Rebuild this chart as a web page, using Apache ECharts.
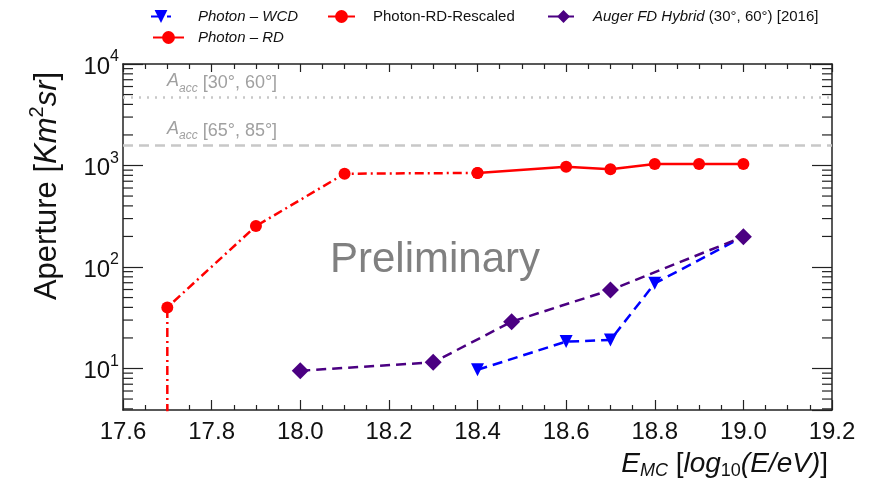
<!DOCTYPE html>
<html>
<head>
<meta charset="utf-8">
<script src="https://cdn.jsdelivr.net/npm/echarts@6/dist/echarts.min.js"></script>
<style>html,body{margin:0;padding:0;background:#fff;}#c{width:871px;height:491px;}</style>
</head>
<body>
<div id="c"></div>
<script>
// ---- data ----
const wcdX = [18.4, 18.6, 18.7, 18.8, 19.0];
const wcdY = [9.7, 18.4, 19.1, 69, 199];

const rescaledX = [17.7, 17.7, 17.9, 18.1, 18.4];
const rescaledY = [1, 40, 253, 830, 845];

const rdX = [18.4, 18.6, 18.7, 18.8, 18.9, 19.0];
const rdY = [845, 973, 918, 1035, 1035, 1035];

const augerX = [18.0, 18.3, 18.477, 18.7, 19.0];
const augerY = [9.5, 11.5, 28.9, 59.3, 199];

const accRef = [4700, 1600];
const accLabels = ['{i|A}{s|acc} [30°, 60°]', '{i|A}{s|acc} [65°, 85°]'];

const xTicks = [17.6, 17.8, 18.0, 18.2, 18.4, 18.6, 18.8, 19.0, 19.2];
const yMinorTicks = [4,5,6,7,8,9,20,30,40,50,60,70,80,90,200,300,400,500,600,700,800,900,2000,3000,4000,5000,6000,7000,8000,9000];

const zip = (xs, ys) => xs.map((x, i) => [x, ys[i]]);

const FONT = 'Liberation Sans';
const chart = echarts.init(document.getElementById('c'), null, {renderer: 'canvas'});

const axisLineStyle = {color: '#222', width: 1.5};
const xAxisCommon = {
  type: 'value', min: 17.6, max: 19.2, interval: 0.2,
  axisLine: {show: true, onZero: false, lineStyle: axisLineStyle},
  axisTick: {show: true, inside: true, length: 10, lineStyle: {color: '#222', width: 1.2}},
  minorTick: {show: true, splitNumber: 4, length: 5, lineStyle: {color: '#222', width: 1.2}},
  splitLine: {show: false}
};
const yAxisCommon = {
  type: 'log', logBase: 10, min: 3.9, max: 10000,
  axisLine: {show: true, onZero: false, lineStyle: axisLineStyle},
  axisTick: {show: true, inside: true, length: 20, lineStyle: {color: '#222', width: 1.2}},
  splitLine: {show: false}
};

function legendCfg(name, left, top, w, pad, italic, rich) {
  return {
    data: [name], left: left, top: top, itemWidth: w, itemHeight: 16, orient: 'horizontal',
    selectedMode: false,
    textStyle: Object.assign({fontFamily: FONT, fontSize: 15, color: '#111', padding: [0, 0, 0, pad],
      fontStyle: italic ? 'italic' : 'normal'}, rich ? {rich: rich} : {}),
    formatter: rich ? () => '{i|Auger FD Hybrid}{n| (30°, 60°) [2016]}' : undefined
  };
}

const option = {
  animation: false,
  backgroundColor: '#fff',
  grid: {left: 123, right: 39, top: 64, bottom: 81},
  legend: [
    legendCfg('Photon – WCD', 145, 4, 20, 22, true),
    legendCfg('Photon-RD-Rescaled', 322, 4, 27, 13, false),
    legendCfg('Auger FD Hybrid', 542, 4, 31, 9, false, {
      i: {fontStyle: 'italic', fontFamily: FONT, fontSize: 15, color: '#111'},
      n: {fontFamily: FONT, fontSize: 15, color: '#111'}
    }),
    legendCfg('Photon – RD', 147, 25, 31, 9, true)
  ],
  xAxis: [
    Object.assign({}, xAxisCommon, {
      position: 'bottom',
      axisLabel: {show: true, margin: 10, fontFamily: FONT, fontSize: 24, color: '#111',
        formatter: v => xTicks.some(t => Math.abs(t - v) < 1e-6) ? v.toFixed(1) : ''}
    }),
    Object.assign({}, xAxisCommon, {position: 'top', axisLabel: {show: false},
      axisTick: {show: true, inside: true, length: 8, lineStyle: {color: '#222', width: 1.2}}})
  ],
  yAxis: [
    Object.assign({}, yAxisCommon, {
      position: 'left',
      axisLabel: {show: true, margin: 4, showMinLabel: false,
        formatter: v => {
          const l = Math.log10(v), e = Math.round(l);
          if (Math.abs(l - e) > 1e-6) return '';
          return '{b|10}{s|' + e + '}';
        },
        rich: {
          b: {fontFamily: FONT, fontSize: 24, color: '#111', lineHeight: 30, verticalAlign: 'bottom'},
          s: {fontFamily: FONT, fontSize: 16, color: '#111', lineHeight: 16, verticalAlign: 'top'}
        }
      }
    }),
    Object.assign({}, yAxisCommon, {position: 'right', axisLabel: {show: false}})
  ],
  series: [
    {
      name: 'acc-ref', type: 'line', data: [], silent: true,
      markLine: {
        silent: true, symbol: ['none', 'none'],
        data: [
          {yAxis: accRef[0], lineStyle: {type: [2, 6], color: '#c8c8c8', width: 2.5},
            label: {formatter: accLabels[0]}},
          {yAxis: accRef[1], lineStyle: {type: [10, 6], color: '#c8c8c8', width: 2.5},
            label: {formatter: accLabels[1]}}
        ],
        label: {
          show: true, position: 'insideStartTop', distance: [44, 3],
          color: '#a0a0a0', fontFamily: FONT, fontSize: 18,
          rich: {
            i: {fontStyle: 'italic', fontFamily: FONT, fontSize: 18, color: '#a0a0a0', lineHeight: 22, verticalAlign: 'top'},
            s: {fontStyle: 'italic', fontFamily: FONT, fontSize: 12, color: '#a0a0a0', lineHeight: 12, verticalAlign: 'bottom'}
          }
        }
      }
    },
    {
      name: 'Photon-RD-Rescaled', type: 'line', color: '#ff0000', z: 2,
      data: zip(rescaledX, rescaledY).map((p, i) => i === 0 ? {value: p, symbol: 'none'} : p),
      symbol: 'circle', symbolSize: 12, showAllSymbol: true, clip: true,
      lineStyle: {width: 2.5, type: [9, 4, 2, 4], color: '#ff0000'},
      itemStyle: {color: '#ff0000'}
    },
    {
      name: 'Photon – RD', type: 'line', color: '#ff0000', z: 3,
      data: zip(rdX, rdY), symbol: 'circle', symbolSize: 12, showAllSymbol: true,
      lineStyle: {width: 2.5, type: 'solid', color: '#ff0000'},
      itemStyle: {color: '#ff0000'}
    },
    {
      name: 'Photon – WCD', type: 'line', color: '#0000ff', z: 2,
      data: zip(wcdX, wcdY).map((p, i, a) => i === a.length - 1 ? {value: p, symbol: 'none'} : p),
      symbol: 'triangle', symbolRotate: 180, symbolSize: 13, showAllSymbol: true,
      lineStyle: {width: 2.5, type: [10, 6], color: '#0000ff'},
      itemStyle: {color: '#0000ff'}
    },
    {
      name: 'Auger FD Hybrid', type: 'line', color: '#4b0082', z: 4,
      data: zip(augerX, augerY), symbol: 'diamond', symbolSize: 17, showAllSymbol: true,
      lineStyle: {width: 2.5, type: [10, 6], color: '#4b0082'},
      itemStyle: {color: '#4b0082'}
    },
    {
      name: 'yminor', type: 'custom', silent: true, clip: false, z: 5,
      data: yMinorTicks.map(v => [17.6, v]),
      renderItem: (params, api) => {
        const v = api.value(1);
        const pl = api.coord([17.6, v]);
        const pr = api.coord([19.2, v]);
        const st = {stroke: '#222', lineWidth: 1.2};
        return {type: 'group', children: [
          {type: 'line', shape: {x1: pl[0], y1: pl[1], x2: pl[0] + 10, y2: pl[1]}, style: st},
          {type: 'line', shape: {x1: pr[0], y1: pr[1], x2: pr[0] - 10, y2: pr[1]}, style: st}
        ]};
      }
    }
  ],
  graphic: [
    {
      type: 'text', x: 45, y: 186, rotation: Math.PI / 2,
      style: {
        text: '{n|Aperture [}{i|Km}{s|2}{i|sr}{n|]}',
        textAlign: 'center', textVerticalAlign: 'middle',
        rich: {
          n: {fontFamily: FONT, fontSize: 31, fill: '#111', lineHeight: 36, verticalAlign: 'bottom'},
          i: {fontFamily: FONT, fontStyle: 'italic', fontSize: 31, fill: '#111', lineHeight: 36, verticalAlign: 'bottom'},
          s: {fontFamily: FONT, fontSize: 20, fill: '#111', lineHeight: 20, verticalAlign: 'top'}
        }
      }
    },
    {
      type: 'text', x: 828, y: 465,
      style: {
        text: '{i|E}{si|MC}{n| [}{i|log}{s|10}{i|(E/eV)}{n|]}',
        textAlign: 'right', textVerticalAlign: 'middle',
        rich: {
          n: {fontFamily: FONT, fontSize: 28, fill: '#111', lineHeight: 30, verticalAlign: 'top'},
          i: {fontFamily: FONT, fontStyle: 'italic', fontSize: 28, fill: '#111', lineHeight: 30, verticalAlign: 'top'},
          si: {fontFamily: FONT, fontStyle: 'italic', fontSize: 18, fill: '#111', lineHeight: 18, verticalAlign: 'bottom'},
          s: {fontFamily: FONT, fontSize: 18, fill: '#111', lineHeight: 18, verticalAlign: 'bottom'}
        }
      }
    },
    {
      type: 'text', x: 435, y: 260, z: 0,
      style: {text: 'Preliminary', font: '42px "Liberation Sans"', fill: '#808080',
        textAlign: 'center', textVerticalAlign: 'middle'}
    }
  ]
};
chart.setOption(option);
</script>
</body>
</html>
